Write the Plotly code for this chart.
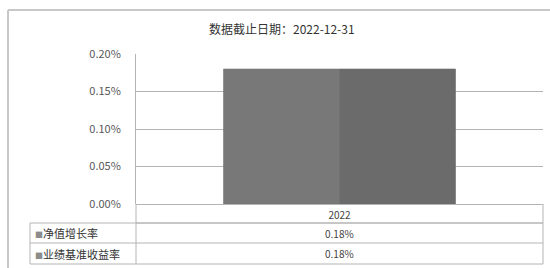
import plotly.graph_objects as go

# ---- data ----
title_text = "数据截止日期：2022-12-31"
categories = ["2022"]
series_names = ["净值增长率", "业绩基准收益率"]
nav_growth = [0.0018]
benchmark_return = [0.0018]
series_values = [nav_growth, benchmark_return]
series_colors = ["#787878", "#6b6b6b"]
y_ticks = [0.0, 0.0005, 0.0010, 0.0015, 0.0020]

W, H = 550, 268
L, R, T, B = 136, 543, 54, 204  # plot area in px
FONT = "Noto Sans CJK SC"

def px_x(px):
    return (px - L) / (R - L)

def px_y(py):
    return (B - py) / (B - T)

fig = go.Figure()
for name, vals, col in zip(series_names, series_values, series_colors):
    fig.add_trace(go.Bar(x=categories, y=vals, name=name,
                         marker=dict(color=col, line=dict(width=0.6, color=col)),
                         showlegend=False))

grid = "#b4b4b4"
shapes = []
def line(x0, y0, x1, y1, color=grid, w=1):
    shapes.append(dict(type="line", xref="paper", yref="paper",
                       x0=px_x(x0), y0=px_y(y0), x1=px_x(x1), y1=px_y(y1),
                       line=dict(color=color, width=w), layer="above"))

# outer frame (top and left visible)
line(8, 10, 560, 10, "#c8c8c8", 2)
line(8, 10, 8, 280, "#c8c8c8", 2)

# data table grid
row_y = [204, 223, 243, 264]
line(136, 223, 543, 223)
line(30, 223, 543, 223)
line(30, 243, 543, 243)
line(30, 264, 543, 264)
line(136, 204, 136, 264)
line(543, 204, 543, 264)
line(30, 223, 30, 264)

annotations = []
for i, (name, vals, col) in enumerate(zip(series_names, series_values, series_colors)):
    yc = (row_y[i + 1] + row_y[i + 2]) / 2
    annotations.append(dict(xref="paper", yref="paper", x=px_x(33), y=px_y(yc),
                            xanchor="left", yanchor="middle", showarrow=False,
                            text=f"<span style='color:#8c8c8c;font-size:8px'>■</span>{name}",
                            font=dict(family=FONT, size=11, color="#333333")))
    for ci, v in enumerate(vals):
        annotations.append(dict(xref="x", yref="paper", x=ci, y=px_y(yc),
                                xanchor="center", yanchor="middle", showarrow=False,
                                text=f"{v:.2%}",
                                font=dict(family=FONT, size=10, color="#444444")))

annotations.append(dict(xref="paper", yref="paper", x=px_x(282), y=px_y(29),
                        xanchor="center", yanchor="middle", showarrow=False,
                        text=title_text,
                        font=dict(family=FONT, size=12, color="#333333")))

fig.update_layout(
    width=W, height=H,
    margin=dict(l=L, r=W - R, t=T, b=H - B, pad=0, autoexpand=False),
    paper_bgcolor="white", plot_bgcolor="white",
    barmode="group", bargap=0.43, bargroupgap=0,
    showlegend=False,
    shapes=shapes, annotations=annotations,
    font=dict(family=FONT, size=11, color="#595959"),
    xaxis=dict(type="category", range=[-0.5, len(categories) - 0.5],
               showgrid=False, showline=False, zeroline=False, ticks="",
               automargin=False, ticklabelstandoff=4,
               tickfont=dict(family=FONT, size=10, color="#444444"), fixedrange=True),
    yaxis=dict(range=[0, 0.002], tickvals=y_ticks, tickformat=".2%",
               automargin=False,
               showgrid=True, gridcolor=grid, gridwidth=1,
               zeroline=True, zerolinecolor=grid, zerolinewidth=1,
               showline=True, linecolor=grid, linewidth=1,
               ticks="", ticklabelstandoff=12,
               tickfont=dict(family=FONT, size=11, color="#595959"), fixedrange=True),
)

fig.write_html("out.html", config={"displayModeBar": False},
               post_script="document.body.style.margin='0';document.body.style.padding='0';")
